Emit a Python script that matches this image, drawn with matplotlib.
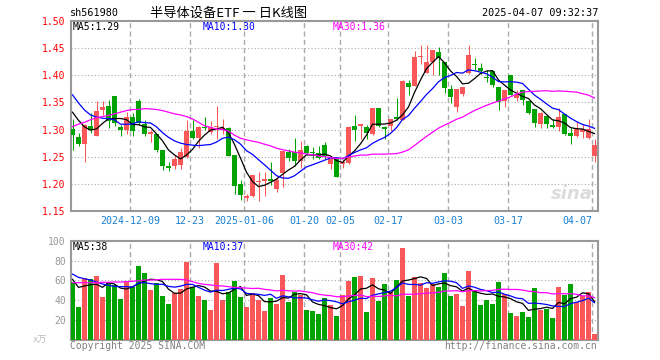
import pandas as pd
import matplotlib
matplotlib.use("Agg")
import matplotlib.pyplot as plt

plt.rcParams['font.family'] = ['DejaVu Sans Mono', 'Noto Sans CJK SC']

# trading days shown (weekdays minus exchange holidays)
holidays = ["2025-01-01", "2025-01-28", "2025-01-29", "2025-01-30", "2025-01-31",
            "2025-02-03", "2025-02-04", "2025-04-04"]
days = pd.bdate_range("2024-11-25", "2025-04-07")
days = days[~days.isin(pd.to_datetime(holidays))]

opens = [1.301, 1.287, 1.273, 1.307, 1.289, 1.336, 1.343, 1.362, 1.304, 1.300,
         1.323, 1.353, 1.310, 1.292, 1.291, 1.262, 1.233, 1.233, 1.234, 1.250,
         1.297, 1.284, 1.305, 1.296, 1.305, 1.301, 1.303, 1.253, 1.199, 1.174,
         1.177, 1.203, 1.2055, 1.2085, 1.190, 1.220, 1.259, 1.259, 1.242, 1.270,
         1.259, 1.256, 1.271, 1.236, 1.246, 1.2375, 1.239, 1.306, 1.306, 1.304,
         1.291, 1.339, 1.304, 1.307, 1.323, 1.318, 1.385, 1.381, 1.434, 1.404,
         1.425, 1.443, 1.424, 1.375, 1.341, 1.366, 1.404, 1.421, 1.414, 1.397,
         1.407, 1.379, 1.352, 1.401, 1.358, 1.372, 1.353, 1.338, 1.310, 1.325,
         1.309, 1.304, 1.329, 1.293, 1.289, 1.295, 1.285, 1.251]
highs = [1.320, 1.294, 1.310, 1.331, 1.353, 1.352, 1.355, 1.362, 1.309, 1.332,
         1.331, 1.356, 1.318, 1.300, 1.292, 1.263, 1.240, 1.254, 1.266, 1.318,
         1.318, 1.307, 1.324, 1.315, 1.344, 1.320, 1.305, 1.254, 1.208, 1.181,
         1.217, 1.222, 1.221, 1.240, 1.213, 1.260, 1.265, 1.285, 1.279, 1.271,
         1.268, 1.270, 1.277, 1.251, 1.246, 1.246, 1.307, 1.326, 1.311, 1.309,
         1.339, 1.339, 1.307, 1.320, 1.358, 1.391, 1.391, 1.444, 1.455, 1.456,
         1.447, 1.453, 1.424, 1.383, 1.374, 1.378, 1.455, 1.432, 1.423, 1.409,
         1.408, 1.379, 1.372, 1.401, 1.372, 1.372, 1.353, 1.338, 1.332, 1.325,
         1.320, 1.340, 1.329, 1.303, 1.314, 1.311, 1.320, 1.282]
lows = [1.262, 1.269, 1.240, 1.294, 1.288, 1.326, 1.303, 1.306, 1.289, 1.291,
        1.288, 1.309, 1.288, 1.277, 1.258, 1.226, 1.223, 1.228, 1.228, 1.248,
        1.282, 1.266, 1.300, 1.291, 1.283, 1.291, 1.251, 1.181, 1.171, 1.168,
        1.176, 1.168, 1.177, 1.198, 1.185, 1.195, 1.242, 1.233, 1.229, 1.254,
        1.245, 1.246, 1.246, 1.227, 1.212, 1.2295, 1.2375, 1.2785, 1.282, 1.282,
        1.290, 1.305, 1.283, 1.298, 1.317, 1.317, 1.364, 1.380, 1.420, 1.404,
        1.401, 1.401, 1.367, 1.349, 1.332, 1.361, 1.403, 1.409, 1.402, 1.388,
        1.378, 1.336, 1.341, 1.363, 1.352, 1.346, 1.329, 1.304, 1.302, 1.303,
        1.303, 1.297, 1.290, 1.274, 1.287, 1.285, 1.282, 1.240]
closes = [1.290, 1.273, 1.309, 1.300, 1.334, 1.341, 1.315, 1.312, 1.300, 1.323,
          1.297, 1.313, 1.292, 1.295, 1.263, 1.233, 1.229, 1.246, 1.259, 1.298,
          1.285, 1.304, 1.303, 1.305, 1.307, 1.303, 1.252, 1.196, 1.179, 1.177,
          1.217, 1.206, 1.2085, 1.2055, 1.207, 1.260, 1.247, 1.242, 1.263, 1.256,
          1.257, 1.247, 1.251, 1.246, 1.213, 1.240, 1.305, 1.300, 1.311, 1.294,
          1.339, 1.306, 1.301, 1.320, 1.320, 1.389, 1.379, 1.434, 1.435, 1.424,
          1.447, 1.432, 1.377, 1.360, 1.374, 1.378, 1.438, 1.4195, 1.408, 1.395,
          1.383, 1.351, 1.372, 1.364, 1.365, 1.354, 1.331, 1.312, 1.331, 1.311,
          1.304, 1.323, 1.291, 1.289, 1.301, 1.301, 1.301, 1.271]
volumes = [58.7, 33.6, 62.4, 61.4, 64.4, 43.3, 57.4, 55.0, 41.3, 59.7,
           53.7, 74.5, 67.8, 50.3, 57.4, 44.3, 36.2, 47.0, 51.0, 78.5,
           53.0, 44.3, 40.3, 30.2, 77.5, 40.3, 48.3, 59.4, 43.3, 33.2,
           47.3, 40.3, 29.2, 42.3, 36.2, 65.4, 38.3, 48.3, 45.3, 30.2,
           29.2, 26.2, 42.3, 35.2, 24.2, 45.3, 59.4, 63.4, 64.4, 28.2,
           62.4, 39.3, 56.4, 48.3, 60.4, 92.6, 44.3, 63.4, 57.4, 52.3,
           56.4, 53.4, 67.4, 44.3, 46.3, 34.2, 69.5, 50.3, 35.2, 40.3,
           36.2, 58.4, 46.3, 27.2, 24.2, 28.2, 23.2, 52.3, 30.2, 31.2,
           22.1, 53.4, 45.3, 56.4, 38.3, 44.3, 48.3, 6.0]

# moving-average values for the first days,
# where the averaging window reaches back before the visible range
ma5_head = [1.332, 1.317, 1.305, 1.299]
ma10_head = [1.364, 1.349, 1.336, 1.327, 1.323, 1.321, 1.320, 1.318, 1.310]
ma30_head = [1.3055, 1.310, 1.3135, 1.318, 1.322, 1.324, 1.326, 1.329, 1.332, 1.335,
             1.337, 1.337, 1.3386, 1.338, 1.337, 1.335, 1.332, 1.329, 1.327, 1.324,
             1.3196, 1.3135, 1.307, 1.304, 1.301, 1.300, 1.297, 1.2896, 1.284]
vma5_head = [61.1, 53.0, 54.4, 55.7]
vma10_head = [66.4, 63.1, 61.7, 60.4, 58.4, 56.4, 55.0, 54.0, 53.7]
vma30_head = [57.7, 57.7, 57.7, 57.7, 57.7, 58.1, 58.1, 58.4, 58.4, 58.7,
              59.1, 59.7, 60.4, 60.4, 60.7, 61.1, 61.1, 61.1, 61.1, 60.4,
              58.7, 57.0, 56.0, 55.4, 54.7, 54.4, 53.7, 53.0, 52.7]

tick_days = ["2024-12-09", "2024-12-23", "2025-01-06", "2025-01-20", "2025-02-05",
             "2025-02-17", "2025-03-03", "2025-03-17", "2025-04-07"]
tick_labels = ["2024-12-09", "12-23", "2025-01-06", "01-20", "02-05",
               "02-17", "03-03", "03-17", "04-07"]

RED = "#fa5858"
GREEN = "#00a300"
GRID = "#aaaaaa"
EDGE = "#999999"

df = pd.DataFrame({"open": opens, "high": highs, "low": lows,
                   "close": closes, "vol": volumes}, index=days)
x = list(range(len(df)))
up = df["close"] >= df["open"]
colors = [RED if u else GREEN for u in up]


def moving_avg(s, n, head):
    m = s.rolling(n).mean()
    m.iloc[:len(head)] = head
    return m


fig = plt.figure(figsize=(6.6, 3.6), dpi=100)
ax = fig.add_axes([70.7/660, 1-211/360, 527/660, 190/360])
axv = fig.add_axes([70.7/660, 1-340/360, 527/660, 99.3/360])

# candles
ax.vlines(x, df["low"], df["high"], colors=colors, lw=0.75, zorder=3)
body_lo = df[["open", "close"]].min(axis=1)
body_h = (df["close"] - df["open"]).abs().clip(lower=0.0012)
ax.bar(x, body_h, bottom=body_lo, width=0.8, color=colors, zorder=4)
axv.bar(x, df["vol"], width=0.8, color=colors, zorder=3)

ma_cols = ["black", "#0000ff", "#ff00ff"]
for n, c, h, vh in zip([5, 10, 30], ma_cols, [ma5_head, ma10_head, ma30_head],
                       [vma5_head, vma10_head, vma30_head]):
    ax.plot(x, moving_avg(df["close"], n, h), color=c, lw=0.9, zorder=5)
    axv.plot(x, moving_avg(df["vol"], n, vh), color=c, lw=0.9, zorder=5)

tick_x = [list(days).index(pd.Timestamp(d)) - 0.42 for d in tick_days]
for a in (ax, axv):
    a.set_xlim(-0.3, 87.53)
    for t in tick_x:
        a.axvline(t, color=GRID, lw=1.0, ls=(0, (3.6, 2.4)), zorder=1)
    for s in a.spines.values():
        s.set_color(EDGE)
        s.set_linewidth(1.5)
    a.set_xticks([])
    a.tick_params(left=False, length=0)

ax.set_ylim(1.15, 1.50)
yt = [1.15, 1.20, 1.25, 1.30, 1.35, 1.40, 1.45, 1.50]
ax.set_yticks(yt)
ax.set_yticklabels([f"{v:.2f}" for v in yt], color="red", fontsize=7)
for v in yt[1:-1]:
    ax.axhline(v, color=GRID, lw=0.8, ls=(0, (1, 2)), zorder=1)

axv.set_ylim(0, 100)
vt = [20, 40, 60, 80, 100]
axv.set_yticks(vt)
axv.set_yticklabels([str(v) for v in vt], color="#999999", fontsize=7)
for v in vt[:-1]:
    axv.axhline(v, color=GRID, lw=0.8, ls=(0, (1, 2)), zorder=1)
axv.text(-0.045, 0.0, "x万", transform=axv.transAxes, ha="right", va="center",
         color="#bbbbbb", fontsize=6.5)

for t, lab in zip(tick_x, tick_labels):
    ha = "right" if lab == tick_labels[-1] else "center"
    ax.text(t, -0.05, lab, transform=ax.get_xaxis_transform(), ha=ha, va="center",
            color="#1a80d0", fontsize=7.2)

# MA legends
for a, texts in [(ax, ["MA5:1.29", "MA10:1.30", "MA30:1.36"]),
                 (axv, ["MA5:38", "MA10:37", "MA30:42"])]:
    for k, (txt, c) in enumerate(zip(texts, ma_cols)):
        fig.text((73 + 130*k)/660, a.get_position().y1 - 6/360, txt, color=c,
                 fontsize=7, ha="left", va="center")

# header and footer
fig.text(70/660, 1-13/360, "sh561980", fontsize=7.3, ha="left", va="center")
fig.text(150/660, 1-13/360, "半导体设备ETF 一 日K线图", fontsize=9.5, ha="left", va="center",
         family=["Noto Sans CJK SC", "DejaVu Sans"])
fig.text(598/660, 1-13/360, "2025-04-07 09:32:37", fontsize=7.3, ha="right", va="center")
fig.text(70/660, 1-346/360, "Copyright 2025 SINA.COM", fontsize=7, color="#808080",
         ha="left", va="center")
fig.text(597/660, 1-346/360, "http://finance.sina.com.cn", fontsize=7, color="#808080",
         ha="right", va="center")
fig.text(593/660, 1-194/360, "sina", fontsize=13, color="#dcdcdc", ha="right",
         va="center", style="italic", weight="bold", family="DejaVu Sans")

fig.savefig("out.png", dpi=100)
